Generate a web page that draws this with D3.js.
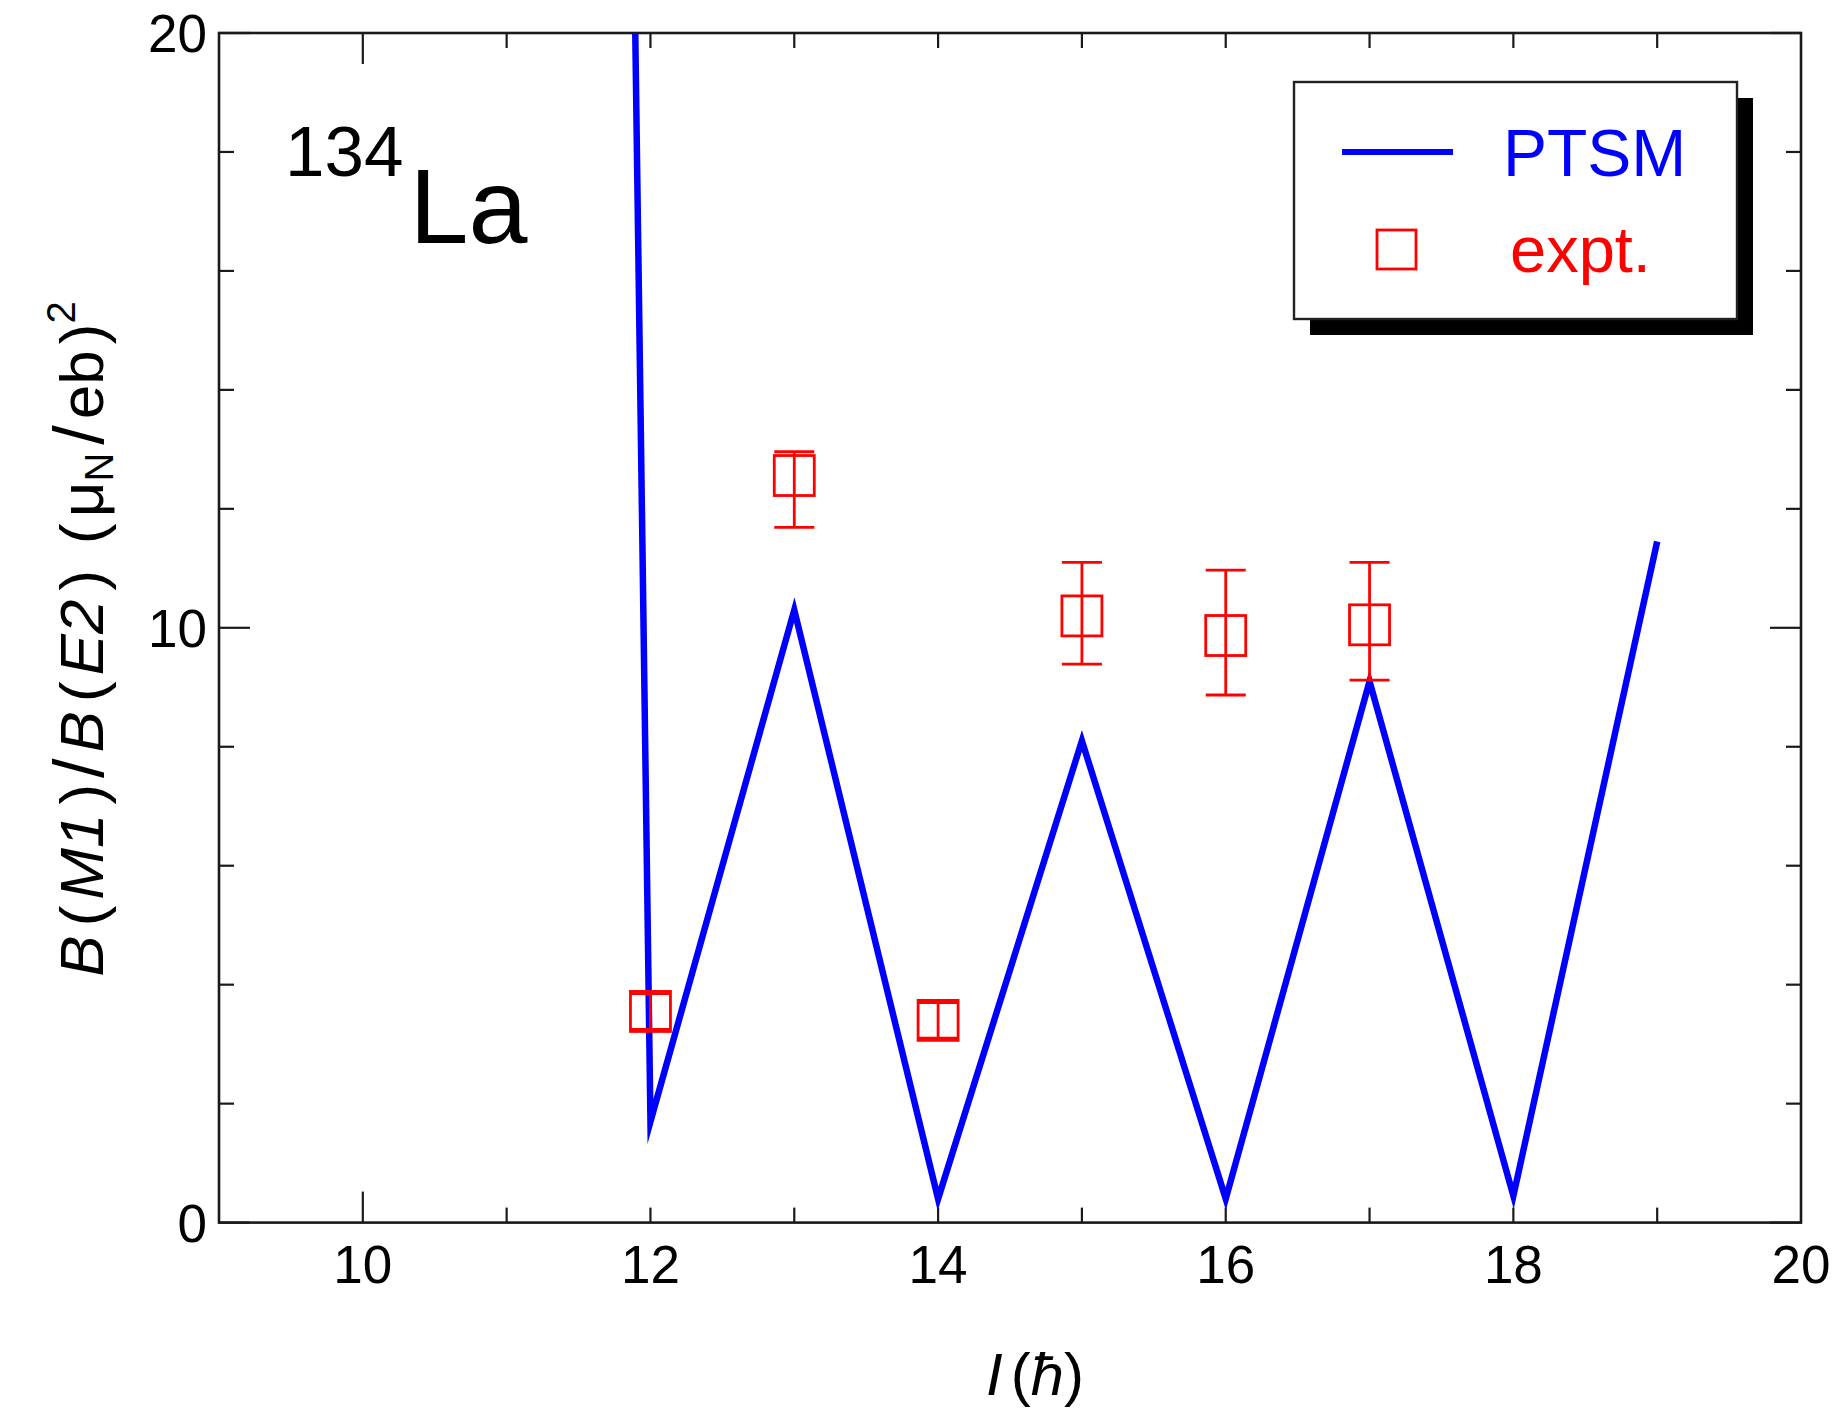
<!DOCTYPE html>
<html>
<head>
<meta charset="utf-8">
<script src="https://cdn.jsdelivr.net/npm/d3@7"></script>
<style>
  html, body { margin: 0; padding: 0; background: #fff; }
  svg { display: block; font-family: "Liberation Sans", Arial, sans-serif; }
</style>
</head>
<body>
<svg id="chart" width="1838" height="1408"></svg>
<script>
// ---- data ----
const ptsmSpin  = [11, 12, 13, 14, 15, 16, 17, 18, 19];
const ptsmValue = [175, 1.7, 10.3, 0.4, 8.1, 0.4, 9.1, 0.45, 11.45];

const exptSpin    = [12, 13, 14, 15, 16, 17];
const exptValue   = [3.55, 12.56, 3.4, 10.2, 9.87, 10.05];
const exptErrUp   = [0.3, 0.4, 0.3, 0.9, 1.1, 1.05];
const exptErrDown = [0.3, 0.87, 0.3, 0.81, 1.0, 0.93];

const xTickLabels = [10, 12, 14, 16, 18, 20];
const yTickLabels = [0, 10, 20];
const xMinorTicks = [10, 11, 12, 13, 14, 15, 16, 17, 18, 19];
const xLongTicks = [10];
const yLongTicks = [0, 10, 20];

// ---- layout ----
const L = 219, R = 1801, T = 33, B = 1222.6;
const svg = d3.select("#chart");
const x = d3.scaleLinear().domain([9, 20]).range([L, R]);
const y = d3.scaleLinear().domain([0, 20]).range([B, T]);

const BLUE = "#0000ff", RED = "#ff0000", AX = "#1a1a1a";
const shortT = 15, longT = 31;

// clip
svg.append("defs").append("clipPath").attr("id", "plotclip")
  .append("rect").attr("x", L).attr("y", T).attr("width", R - L).attr("height", B - T);

// ticks (inward on all four sides)
const tickG = svg.append("g").attr("stroke", AX).attr("stroke-width", 2.2);
xMinorTicks.forEach(v => {
  const len = xLongTicks.includes(v) ? longT : shortT;
  tickG.append("line").attr("x1", x(v)).attr("x2", x(v)).attr("y1", B).attr("y2", B - len);
  tickG.append("line").attr("x1", x(v)).attr("x2", x(v)).attr("y1", T).attr("y2", T + len);
});
d3.range(0, 21, 2).forEach(v => {
  const len = yLongTicks.includes(v) ? longT : shortT;
  tickG.append("line").attr("x1", L).attr("x2", L + len).attr("y1", y(v)).attr("y2", y(v));
  tickG.append("line").attr("x1", R).attr("x2", R - len).attr("y1", y(v)).attr("y2", y(v));
});

// frame
svg.append("rect").attr("x", L).attr("y", T).attr("width", R - L).attr("height", B - T)
  .attr("fill", "none").attr("stroke", AX).attr("stroke-width", 2.6);

// tick labels
const lblG = svg.append("g").attr("font-size", 53).attr("fill", "#000");
xTickLabels.forEach(v => {
  lblG.append("text").attr("x", x(v)).attr("y", 1283).attr("text-anchor", "middle").text(v);
});
yTickLabels.forEach(v => {
  lblG.append("text").attr("x", 207).attr("y", y(v)).attr("dy", "0.36em")
    .attr("text-anchor", "end").text(v);
});

// PTSM line
const line = d3.line().x((d, i) => x(ptsmSpin[i])).y(d => y(d));
svg.append("path").datum(ptsmValue)
  .attr("clip-path", "url(#plotclip)")
  .attr("d", line).attr("fill", "none").attr("stroke", BLUE)
  .attr("stroke-width", 6.5).attr("stroke-linejoin", "miter").attr("stroke-miterlimit", 20);

// experimental points
const sq = 40, cap = 40;
const eg = svg.append("g").attr("stroke", RED).attr("stroke-width", 2.8).attr("fill", "none");
exptSpin.forEach((s, i) => {
  const cx = x(s), cy = y(exptValue[i]);
  const yt = y(exptValue[i] + exptErrUp[i]), yb = y(exptValue[i] - exptErrDown[i]);
  eg.append("line").attr("x1", cx).attr("x2", cx).attr("y1", yt).attr("y2", yb);
  eg.append("line").attr("x1", cx - cap / 2).attr("x2", cx + cap / 2).attr("y1", yt).attr("y2", yt);
  eg.append("line").attr("x1", cx - cap / 2).attr("x2", cx + cap / 2).attr("y1", yb).attr("y2", yb);
  eg.append("rect").attr("x", cx - sq / 2).attr("y", cy - sq / 2).attr("width", sq).attr("height", sq);
});

// nucleus label
const nuc = svg.append("text").attr("x", 285).attr("y", 243).attr("fill", "#000");
nuc.append("tspan").attr("font-size", 71).attr("dy", -67).text("134");
nuc.append("tspan").attr("font-size", 106).attr("dx", 6).attr("dy", 67).text("La");

// legend
const lgX = 1294, lgY = 82, lgW = 443, lgH = 237, sh = 16;
svg.append("rect").attr("x", lgX + sh).attr("y", lgY + sh).attr("width", lgW).attr("height", lgH).attr("fill", "#000");
svg.append("rect").attr("x", lgX).attr("y", lgY).attr("width", lgW).attr("height", lgH)
  .attr("fill", "#fff").attr("stroke", "#222").attr("stroke-width", 2.4);
svg.append("line").attr("x1", 1342).attr("x2", 1453).attr("y1", 152).attr("y2", 152)
  .attr("stroke", BLUE).attr("stroke-width", 6);
svg.append("text").attr("x", 1503).attr("y", 176).attr("font-size", 66).attr("fill", BLUE).text("PTSM");
svg.append("rect").attr("x", 1377).attr("y", 230).attr("width", 39).attr("height", 39)
  .attr("fill", "none").attr("stroke", RED).attr("stroke-width", 2.8);
svg.append("text").attr("x", 1510).attr("y", 272).attr("font-size", 65).attr("fill", RED).text("expt.");

// y axis title
const yt = svg.append("text").attr("transform", "translate(103,639) rotate(-90)")
  .attr("text-anchor", "middle").attr("font-size", 62).attr("fill", "#000");
yt.append("tspan").attr("font-style", "italic").text("B");
yt.append("tspan").attr("dx", 9).text("(");
yt.append("tspan").attr("dx", 6).attr("font-style", "italic").text("M1");
yt.append("tspan").attr("dx", 9).text(")");
yt.append("tspan").attr("dx", 6).attr("font-size", 70).text("/");
yt.append("tspan").attr("dx", 6).attr("font-style", "italic").text("B");
yt.append("tspan").attr("dx", 9).text("(");
yt.append("tspan").attr("dx", 6).attr("font-style", "italic").text("E2");
yt.append("tspan").attr("dx", 9).text(")");
yt.append("tspan").attr("dx", 26).text("(");
yt.append("tspan").attr("dx", 6).text("\u03bc");
yt.append("tspan").attr("font-size", 40).attr("dy", 10).text("N");
yt.append("tspan").attr("dx", 8).attr("dy", -10).attr("font-size", 70).text("/");
yt.append("tspan").attr("dx", 6).text("eb");
yt.append("tspan").attr("dx", 6).text(")");
yt.append("tspan").attr("font-size", 40).attr("dy", -28).text("2");

// x axis title
const xt = svg.append("text").attr("x", 1035).attr("y", 1395).attr("text-anchor", "middle")
  .attr("font-size", 60).attr("fill", "#000");
xt.append("tspan").attr("font-style", "italic").text("I");
xt.append("tspan").attr("dx", 8).text("(");
xt.append("tspan").attr("font-style", "italic").text("\u0127");
xt.append("tspan").text(")");
</script>
</body>
</html>
